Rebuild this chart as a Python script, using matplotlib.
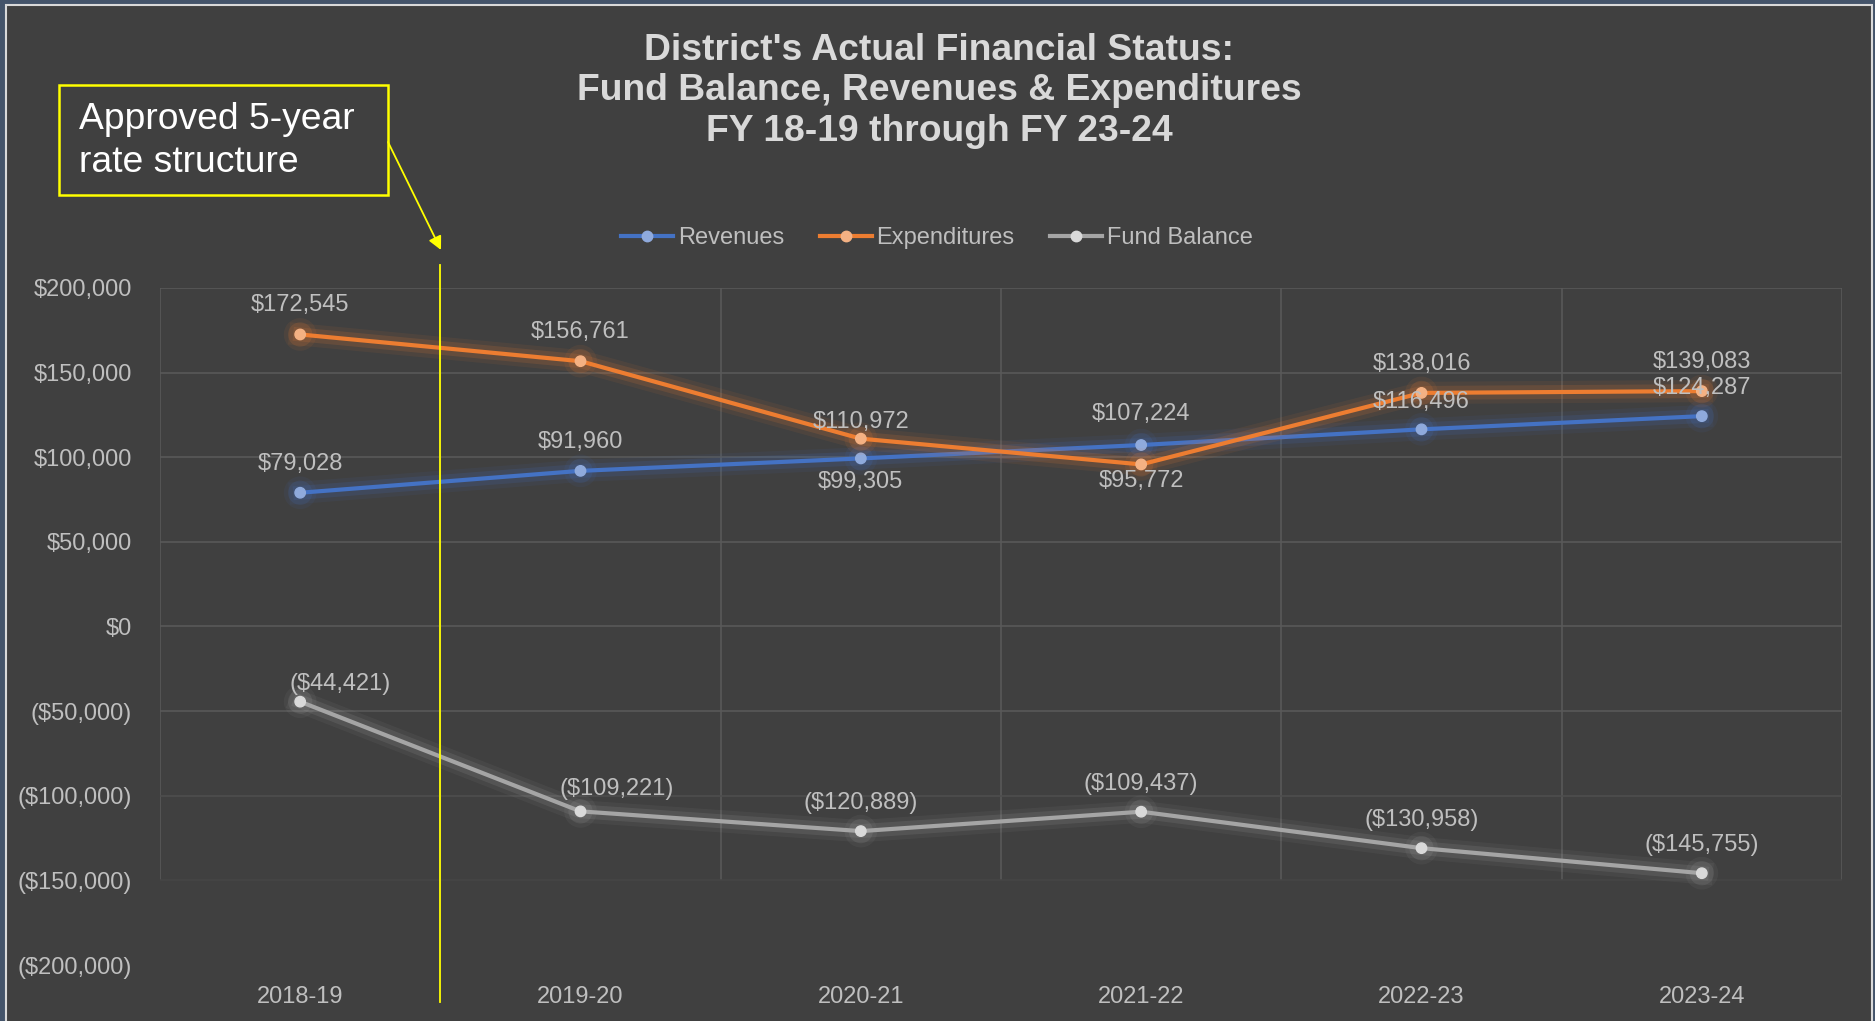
import matplotlib
matplotlib.use("Agg")
import matplotlib.pyplot as plt
import matplotlib.patheffects as pe
from matplotlib.patches import Rectangle, FancyArrowPatch
from matplotlib.ticker import FuncFormatter
import numpy as np

plt.rcParams['font.family'] = ['Liberation Sans', 'DejaVu Sans']

# data
years = ['2018-19', '2019-20', '2020-21', '2021-22', '2022-23', '2023-24']
revenues = [79028, 91960, 99305, 107224, 116496, 124287]
expenditures = [172545, 156761, 110972, 95772, 138016, 139083]
fund_balance = [-44421, -109221, -120889, -109437, -130958, -145755]

# label placement per point: (dx, dy) in points
rev_offsets = [(0, 21), (0, 21), (0, -17), (0, 22), (0, 20), (0, 20)]
exp_offsets = [(0, 21), (0, 21), (0, 12), (0, -12), (0, 21), (0, 21)]
fb_offsets = [(29, 13), (26, 16), (0, 20), (0, 20), (0, 20), (0, 20)]

BG = '#404040'
TXT = '#BFBFBF'
GRID = '#595959'


def money(v, pos=None):
    if v < 0:
        return '(${:,.0f})'.format(-v)
    return '${:,.0f}'.format(v)


fig = plt.figure(figsize=(18.75, 10.21), dpi=100)
fig.patch.set_facecolor('#44546A')
fig.patches.append(Rectangle((6 / 1875, -0.01), 1866 / 1875, 1.01 - 5 / 1021,
                             transform=fig.transFigure, facecolor=BG,
                             edgecolor='#D9D9D9', linewidth=1.5, zorder=-10))

ax = fig.add_axes([160 / 1875, 1 - 965 / 1021, 1682 / 1875, 677 / 1021])
ax.patch.set_alpha(0)

x = np.arange(len(years))
yticks = np.arange(-200000, 200001, 50000)

# gridlines (the lower part of the grid fades out in the original)
ax.vlines(np.arange(-0.5, len(years)), -150000, 200000, color=GRID, lw=1.2, zorder=1)
ax.hlines(yticks[yticks >= -50000], -0.5, len(years) - 0.5, color=GRID, lw=1.2, zorder=1)
ax.hlines([-100000], -0.5, len(years) - 0.5, color='#4E4E4E', lw=1.2, zorder=1)
ax.hlines([-150000], -0.5, len(years) - 0.5, color='#464646', lw=1.2, zorder=1)

series = [
    ('Revenues', revenues, '#4472C4', '#8FAADC', rev_offsets),
    ('Expenditures', expenditures, '#ED7D31', '#F4B183', exp_offsets),
    ('Fund Balance', fund_balance, '#A5A5A5', '#D9D9D9', fb_offsets),
]
for name, vals, col, mcol, offs in series:
    glow = [pe.Stroke(linewidth=16, foreground=col, alpha=0.08),
            pe.Stroke(linewidth=10, foreground=col, alpha=0.15),
            pe.Normal()]
    ax.plot(x, vals, color=col, lw=3, marker='o', ms=7.5, mfc=mcol, mec=mcol,
            label=name, zorder=3, path_effects=glow)
    for xi, v, (dx, dy) in zip(x, vals, offs):
        ax.annotate(money(v), (xi, v), xytext=(dx, dy), textcoords='offset points',
                    ha='center', va='center', fontsize=17, color=TXT, zorder=5)

ax.set_xlim(-0.5, len(years) - 0.5)
ax.set_ylim(-200000, 200000)
ax.set_xticks(x)
ax.set_xticklabels(years)
ax.set_yticks(yticks)
ax.yaxis.set_major_formatter(FuncFormatter(money))
ax.tick_params(axis='both', which='both', length=0, labelsize=17, labelcolor=TXT)
ax.tick_params(axis='x', pad=15)
ax.tick_params(axis='y', pad=20)
for s in ax.spines.values():
    s.set_visible(False)

# approved rate structure marker
ax.axvline(0.5, ymin=-0.055, ymax=1.034, color='#FFFF00', lw=1.3, clip_on=False, zorder=4)

fig.patches.append(Rectangle((59 / 1875, 1 - 195 / 1021), 329 / 1875, 110 / 1021,
                             transform=fig.transFigure, facecolor='none',
                             edgecolor='#FFFF00', linewidth=1.8, zorder=6))
fig.text(79 / 1875, 1 - 141 / 1021, 'Approved 5-year\nrate structure', fontsize=26.8,
         color='white', ha='left', va='center', linespacing=1.27)
fig.add_artist(FancyArrowPatch(
    (388 / 1875, 1 - 142 / 1021), (441 / 1875, 1 - 250 / 1021),
    transform=fig.transFigure, arrowstyle='-|>,head_length=8,head_width=4',
    color='#FFFF00', lw=1.3, shrinkA=0, shrinkB=0))

fig.text(939 / 1875, 1 - 91 / 1021,
         "District's Actual Financial Status:\nFund Balance, Revenues & Expenditures\nFY 18-19 through FY 23-24",
         fontsize=26.8, fontweight='bold', color='#D9D9D9', ha='center', va='center',
         linespacing=1.22)

leg = fig.legend(loc='center', bbox_to_anchor=(937 / 1875, 1 - 238 / 1021), ncol=3,
                 frameon=False, fontsize=17, handlelength=2.2, handletextpad=0.2,
                 columnspacing=1.5, labelcolor=TXT)
for h in leg.get_lines():
    h.set_path_effects([])

fig.savefig('out.png', dpi=100, facecolor=fig.get_facecolor())
